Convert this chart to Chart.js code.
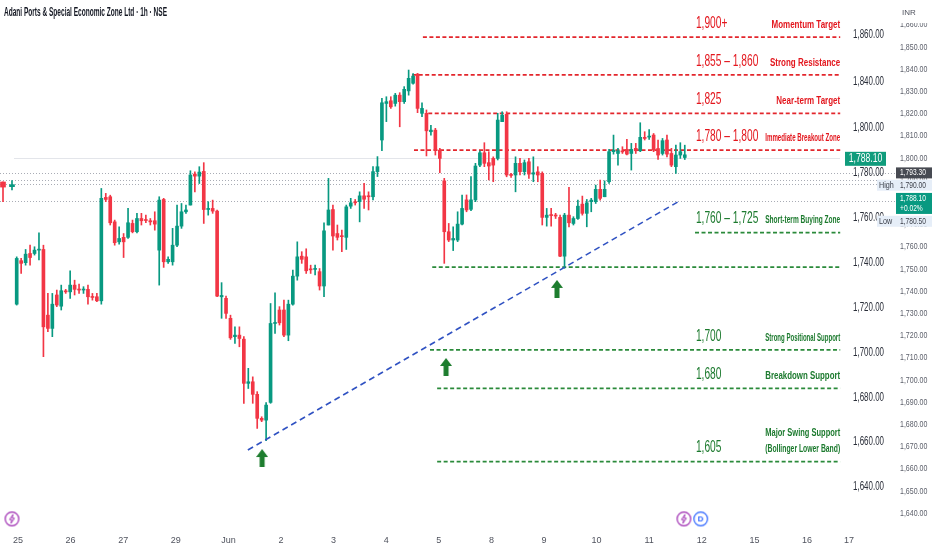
<!DOCTYPE html>
<html>
<head>
<meta charset="utf-8">
<script src="https://cdn.jsdelivr.net/npm/chart.js@4.4.1/dist/chart.umd.min.js"></script>
<style>
  html, body { margin: 0; padding: 0; background: #fff; }
  #wrap { position: relative; width: 932px; height: 550px; }
</style>
</head>
<body>
<div id="wrap"><canvas id="chart"></canvas></div>
<script>
// ==================== Dữ liệu ====================
// nến 1h (ảnh chèn bên trong)
const opens = [1721.5,1740.9,1740.0,1744.1,1744.1,1745.6,1745.9,1716.6,1710.7,1725.6,1720.6,1727.2,1727.0,1730.0,1728.1,1727.8,1728.1,1724.8,1724.8,1723.0,
  1769.1,1769.4,1758.2,1749.3,1751.3,1751.3,1757.5,1753.8,1759.7,1759.0,1758.7,1758.7,1745.6,1768.2,1740.4,1740.4,1747.8,1756.3,1762.7,1765.7,
  1779.5,1778.6,1780.7,1763.7,1764.2,1763.0,1724.8,1724.1,1715.2,1707.0,1707.7,1705.9,1686.2,1686.9,1681.3,1670.6,1669.8,1677.7,1712.9,1718.9,
  1718.9,1707.7,1721.5,1734.0,1742.9,1742.6,1737.0,1737.0,1736.0,1729.6,1756.8,1763.7,1753.0,1751.9,1751.3,1765.2,1767.2,1767.2,1769.8,1769.8,
  1769.4,1780.6,1794.7,1811.0,1812.2,1811.0,1814.7,1811.8,1816.6,1820.0,1824.1,1806.6,1806.6,1798.4,1799.1,1790.2,1776.5,1753.8,1750.1,1750.1,
  1757.2,1768.0,1763.8,1768.0,1783.5,1789.0,1784.6,1786.5,1786.5,1802.9,1806.2,1779.1,1779.1,1784.3,1780.6,1785.0,1779.5,1780.5,1779.8,1760.2,
  1761.2,1761.2,1760.2,1742.9,1761.2,1757.5,1759.7,1766.1,1762.0,1767.2,1767.2,1772.7,1769.4,1776.1,1789.5,1788.7,1789.5,1790.5,1788.7,1791.0,
  1789.9,1795.9,1796.0,1796.9,1790.9,1788.7,1794.7,1788.7,1782.8,1788.0,1786.9];
const highs = [1742.6,1741.9,1745.9,1747.8,1747.1,1753.3,1747.8,1726.3,1726.3,1727.8,1730.0,1728.1,1736.4,1732.2,1730.5,1729.3,1730.0,1726.3,1726.3,1773.1,
  1770.9,1770.1,1759.0,1756.0,1753.0,1764.2,1759.0,1762.0,1762.0,1761.2,1759.7,1762.7,1769.4,1768.7,1742.6,1755.3,1765.7,1766.4,1765.7,1781.0,
  1780.5,1782.8,1784.6,1767.2,1767.9,1763.5,1731.1,1725.1,1716.6,1711.4,1711.4,1707.0,1692.9,1689.1,1682.5,1671.3,1677.6,1721.8,1726.6,1720.4,
  1723.3,1723.3,1736.7,1749.3,1744.9,1746.2,1738.9,1738.9,1737.4,1757.8,1777.6,1765.7,1756.8,1754.5,1765.7,1768.7,1768.2,1771.6,1775.4,1771.6,
  1782.8,1787.3,1813.3,1814.0,1814.0,1815.5,1815.8,1818.5,1825.9,1824.3,1824.4,1811.3,1808.1,1801.3,1799.9,1791.0,1777.6,1757.5,1756.0,1762.7,
  1770.2,1770.2,1778.4,1784.3,1789.9,1793.5,1789.5,1787.2,1806.6,1807.3,1807.3,1779.8,1787.2,1786.5,1785.8,1786.5,1787.2,1782.8,1780.5,1764.2,
  1764.2,1762.0,1761.2,1762.0,1773.6,1760.5,1767.9,1769.7,1768.2,1768.7,1774.6,1776.8,1776.5,1790.5,1796.9,1791.0,1791.7,1795.0,1793.2,1793.2,
  1802.4,1798.4,1799.4,1797.6,1794.7,1795.4,1796.9,1791.0,1792.4,1793.5,1792.4];
const lows = [1721.1,1735.2,1738.9,1738.9,1743.4,1741.2,1698.1,1709.2,1707.0,1720.4,1718.9,1726.3,1724.1,1725.6,1726.3,1726.3,1721.5,1723.3,1722.6,1721.5,
  1767.2,1756.8,1747.8,1748.3,1742.3,1750.8,1753.3,1753.3,1756.8,1757.8,1756.8,1754.5,1730.0,1737.9,1739.7,1738.9,1747.1,1755.3,1762.0,1765.7,
  1771.6,1775.3,1757.5,1761.2,1762.0,1724.8,1715.2,1715.2,1705.8,1704.0,1702.5,1677.3,1683.9,1677.3,1666.1,1669.1,1660.6,1677.3,1708.5,1712.2,
  1707.0,1705.2,1721.1,1732.2,1739.7,1735.2,1735.2,1734.5,1727.8,1724.8,1756.8,1745.6,1750.1,1744.9,1745.9,1764.2,1765.7,1758.2,1764.2,1763.5,
  1768.0,1778.4,1789.9,1802.9,1808.8,1809.8,1800.6,1811.0,1814.7,1819.6,1806.9,1805.1,1787.6,1796.9,1788.0,1780.1,1739.7,1749.4,1745.4,1749.4,
  1756.8,1762.7,1763.2,1767.2,1782.8,1782.8,1776.9,1776.1,1785.8,1802.9,1778.3,1778.0,1771.6,1779.1,1779.1,1777.6,1776.1,1776.1,1756.8,1756.3,
  1756.3,1759.7,1742.7,1737.5,1756.0,1756.8,1759.3,1761.2,1756.0,1762.7,1766.4,1767.9,1769.4,1775.3,1788.4,1783.5,1788.7,1788.0,1781.3,1788.7,
  1789.5,1794.7,1795.0,1789.5,1786.0,1788.0,1787.2,1782.8,1779.8,1786.5,1786.0];
const closes = [1741.9,1739.7,1743.8,1742.3,1745.6,1745.9,1711.4,1710.7,1721.5,1721.1,1727.5,1727.0,1730.0,1728.1,1727.8,1727.9,1724.8,1724.5,1723.0,1768.7,
  1768.2,1757.8,1748.9,1750.8,1749.3,1757.8,1753.8,1759.7,1758.7,1758.8,1758.2,1757.2,1767.9,1740.4,1741.5,1747.8,1756.3,1762.7,1763.5,1779.1,
  1778.6,1780.4,1763.7,1764.2,1763.0,1725.1,1725.4,1717.4,1706.5,1707.7,1706.2,1686.2,1686.9,1681.3,1670.6,1669.8,1676.5,1712.9,1713.2,1713.2,
  1707.7,1721.5,1734.0,1742.6,1741.5,1736.4,1736.8,1737.3,1729.6,1754.2,1763.5,1751.9,1751.3,1751.6,1764.9,1766.7,1766.7,1769.8,1768.3,1769.4,
  1780.6,1782.8,1811.3,1811.8,1809.5,1814.7,1811.8,1817.3,1822.2,1823.2,1808.8,1808.8,1798.8,1799.1,1790.2,1786.5,1753.8,1750.1,1750.8,1757.2,
  1764.2,1763.5,1768.0,1783.1,1789.0,1784.3,1783.1,1783.5,1803.6,1805.8,1779.1,1778.9,1784.3,1780.6,1784.6,1779.5,1780.1,1779.1,1760.2,1761.2,
  1761.0,1760.8,1742.9,1761.2,1757.8,1759.7,1765.2,1762.0,1766.7,1767.9,1772.7,1768.7,1772.7,1789.5,1790.2,1789.9,1789.4,1788.4,1790.5,1789.9,
  1795.9,1795.4,1796.2,1790.2,1788.0,1794.4,1788.4,1783.5,1788.0,1789.5,1788.1];

// các mức kháng cự / hỗ trợ
const levelValues = [1840.6, 1823.7, 1806.6, 1790.2, 1753.4, 1738.0, 1701.1, 1684.0, 1651.3];
const levelStarts = [91.2, 88.8, 92.4, 89.2, 152.3, 93.3, 92.8, 94.4, 94.4];
const levelEnd = 184.9;
const levelKinds = ['res', 'res', 'res', 'res', 'sup', 'sup', 'sup', 'sup', 'sup'];
const levelTitles = ['1,900+', '1,855 – 1,860', '1,825', '1,780 – 1,800', '1,760 – 1,725', '', '1,700', '1,680', '1,605'];
const levelNotes = ['Momentum Target', 'Strong Resistance', 'Near-term Target', 'Immediate Breakout Zone',
  'Short-term Buying Zone', '', 'Strong Positional Support', 'Breakdown Support', 'Major Swing Support|(Bollinger Lower Band)'];

// đường xu hướng + mũi tên
const trendX = [51.9, 148.9];
const trendY = [1656.5, 1767.6];
const arrowX = [55.1, 96.4, 121.3];
const arrowY = [1652.9, 1693.5, 1728.3];

// trục giá của ảnh chèn
const innerTickValues = [1841.5, 1820.6, 1800, 1780, 1760, 1740, 1720, 1700, 1680, 1660, 1640];
const innerTickLabels = ['1,860.00', '1,840.00', '1,800.00', '1,780.00', '1,760.00', '1,740.00', '1,720.00', '1,700.00', '1,680.00', '1,660.00', '1,640.00'];
const innerLastPrice = 1788.1;

// trục ngoài (TradingView)
const priceTicks = [1640, 1650, 1660, 1670, 1680, 1690, 1700, 1710, 1720, 1730, 1740, 1750, 1760, 1770, 1780, 1790, 1800, 1810, 1820, 1830, 1840, 1850, 1860];
const dayLabels = ['25', '26', '27', '29', 'Jun', '2', '3', '4', '5', '8', '9', '10', '11', '12', '15', '16', '17'];
const dayTickValues = [0, 1, 2, 3, 4, 5, 6, 7, 8, 9, 10, 11, 12, 13, 14, 15, 15.8];
const outerX = [-0.285, -0.114];
const outerOpen = [1789.2, 1787.1];
const outerHigh = [1789.3, 1789.8];
const outerLow = [1780.3, 1785.6];
const outerClose = [1786.9, 1788.0];
const priceLines = [1793.3, 1790.0, 1788.1, 1780.5];
const gridLine = 1800;
const badgeX = [-0.114, 12.66, 12.98];
const badgeY = [1637.4, 1637.4, 1637.4];

// ==================== Style ====================
const UP = '#089981', DOWN = '#f23645';
const RED_LINE = '#e3262c', RED_TEXT = '#e3161d';
const GREEN_LINE = '#2a8a3a', GREEN_TEXT = '#1c7a2e';
const SANS = '"Liberation Sans", sans-serif';

function squeeze(ctx, text, x, y, sx, maxW) {
    ctx.save();
    ctx.translate(x, y);
    ctx.scale(sx, 1);
    if (maxW) ctx.fillText(text, 0, 0, maxW / sx);
    else ctx.fillText(text, 0, 0);
    ctx.restore();
}

function makeArrow() {
    const c = document.createElement('canvas');
    c.width = 12; c.height = 18;
    const g = c.getContext('2d');
    g.fillStyle = '#1d7d2e';
    g.beginPath();
    g.moveTo(6, 0); g.lineTo(12, 8); g.lineTo(8.5, 8); g.lineTo(8.5, 18);
    g.lineTo(3.5, 18); g.lineTo(3.5, 8); g.lineTo(0, 8);
    g.closePath(); g.fill();
    return c;
}

function makeBadge(color, kind) {
    const c = document.createElement('canvas');
    c.width = 17; c.height = 17;
    const g = c.getContext('2d');
    g.beginPath(); g.arc(8.5, 8.5, 6.8, 0, Math.PI * 2);
    g.fillStyle = '#fff'; g.fill();
    g.lineWidth = 1.2; g.strokeStyle = color; g.stroke();
    if (kind === 'bolt') {
        g.beginPath();
        g.moveTo(9.6, 4); g.lineTo(6, 9.2); g.lineTo(8.4, 9.2); g.lineTo(7.4, 13);
        g.lineTo(11, 7.8); g.lineTo(8.6, 7.8); g.closePath();
        g.lineWidth = 0.9; g.stroke();
    } else {
        g.fillStyle = color;
        g.font = 'bold 8px ' + SANS;
        g.textAlign = 'center'; g.textBaseline = 'middle';
        g.fillText('D', 8.5, 9);
    }
    return c;
}

const idx = opens.map((_, i) => i);
const candleColors = idx.map(i => closes[i] >= opens[i] ? UP : DOWN);
const outerColors = outerOpen.map((o, i) => outerClose[i] >= o ? UP : DOWN);

const levelDatasets = levelValues.map((v, i) => ({
    type: 'line',
    xAxisID: 'xi', yAxisID: 'yi',
    data: [{ x: levelStarts[i], y: v }, { x: levelEnd, y: v }],
    borderColor: levelKinds[i] === 'res' ? RED_LINE : GREEN_LINE,
    borderWidth: 1.8,
    borderDash: [4, 2.5],
    pointRadius: 0,
    order: 3
}));

const noPad = s => { s.paddingTop = 0; s.paddingBottom = 0; s.paddingLeft = 0; s.paddingRight = 0; };

// ==================== Plugin vẽ chữ / nhãn ====================
const overlayPlugin = {
    id: 'overlay',
    beforeDatasetsDraw(chart) {
        const { ctx, chartArea: a, scales: { y } } = chart;
        ctx.save();
        ctx.strokeStyle = '#e3e5ea';
        ctx.lineWidth = 1;
        let py = Math.round(y.getPixelForValue(gridLine)) + 0.5;
        ctx.beginPath(); ctx.moveTo(a.left + 14, py); ctx.lineTo(a.right - 55, py); ctx.stroke();
        ctx.strokeStyle = '#a9acb5';
        ctx.setLineDash([1, 2]);
        priceLines.forEach(v => {
            py = Math.round(y.getPixelForValue(v)) + 0.5;
            ctx.beginPath(); ctx.moveTo(a.left, py); ctx.lineTo(a.right, py); ctx.stroke();
        });
        ctx.restore();
    },
    afterDraw(chart) {
        const { ctx, chartArea: a, scales: { xi, yi, y } } = chart;
        ctx.save();
        ctx.textBaseline = 'middle';

        // tiêu đề
        ctx.fillStyle = '#131722';
        ctx.font = 'bold 12px ' + SANS;
        ctx.textAlign = 'left';
        squeeze(ctx, 'Adani Ports & Special Economic Zone Ltd · 1h · NSE', 4, 13, 1, 163);

        // nhãn các mức
        const titleX = xi.getPixelForValue(152.5);
        const noteX = xi.getPixelForValue(levelEnd);
        levelValues.forEach((v, i) => {
            const ly = yi.getPixelForValue(v);
            ctx.fillStyle = levelKinds[i] === 'res' ? RED_TEXT : GREEN_TEXT;
            if (levelTitles[i]) {
                ctx.font = '17px ' + SANS;
                ctx.textAlign = 'left';
                squeeze(ctx, levelTitles[i], titleX, ly - 14, 0.6);
            }
            if (levelNotes[i]) {
                ctx.font = 'bold 10px ' + SANS;
                ctx.textAlign = 'right';
                const rows = levelNotes[i].split('|');
                rows.forEach((r, k) => {
                    squeeze(ctx, r, noteX, ly - 12 - (rows.length - 1 - k) * 16, 0.8, 75);
                });
            }
        });

        // trục giá của ảnh chèn
        ctx.fillStyle = '#2a2e39';
        ctx.font = '12px ' + SANS;
        ctx.textAlign = 'right';
        innerTickValues.forEach((v, i) => {
            squeeze(ctx, innerTickLabels[i], a.right - 11, yi.getPixelForValue(v), 0.72, 31);
        });
        let by = yi.getPixelForValue(innerLastPrice) + 4;
        ctx.fillStyle = '#109c7c';
        ctx.fillRect(a.right - 50, by - 7, 41, 14);
        ctx.fillStyle = '#fff';
        ctx.textAlign = 'center';
        squeeze(ctx, '1,788.10', a.right - 29.5, by, 0.72, 34);

        // trục giá ngoài
        const ax = a.right + 1;
        ctx.fillStyle = '#5d606b';
        ctx.font = '9.5px ' + SANS;
        ctx.textAlign = 'left';
        priceTicks.forEach(v => {
            const lbl = v.toLocaleString('en-US', { minimumFractionDigits: 2, maximumFractionDigits: 2 });
            squeeze(ctx, lbl, ax + 4, y.getPixelForValue(v), 0.74);
        });
        ctx.fillStyle = '#fff';
        ctx.fillRect(a.right, 0, 40, 23);
        ctx.fillStyle = '#50535e';
        ctx.font = '8px ' + SANS;
        ctx.fillText('INR', ax + 6, 13);

        ctx.font = '9px ' + SANS;
        const box = (val, txt, bg, fg, dy, tag) => {
            const cy = y.getPixelForValue(val) + dy;
            ctx.fillStyle = bg;
            if (tag) ctx.fillRect(ax - 19, cy - 5.5, 55, 11);
            else ctx.fillRect(ax, cy - 5.5, 36, 11);
            ctx.fillStyle = fg;
            if (tag) squeeze(ctx, tag, ax - 17, cy, 0.8, 15);
            squeeze(ctx, txt, ax + 4, cy, 0.74, 29);
        };
        box(1793.3, '1,793.30', '#474a52', '#fff', 0);
        box(1790, '1,790.00', '#e6eef8', '#3a3e48', 5, 'High');
        box(1780.5, '1,780.50', '#e6eef8', '#3a3e48', 20, 'Low');
        // giá hiện tại
        by = y.getPixelForValue(1788.1) + 19;
        ctx.fillStyle = UP;
        ctx.fillRect(ax, by - 10.5, 36, 21);
        ctx.fillStyle = '#fff';
        squeeze(ctx, '1,788.10', ax + 4, by - 4.5, 0.74, 29);
        squeeze(ctx, '+0.02%', ax + 4, by + 5, 0.74, 29);
        ctx.restore();
    }
};

// ==================== Biểu đồ ====================
new Chart(document.getElementById('chart'), {
    type: 'bar',
    data: {
        datasets: [
            {
                xAxisID: 'xi', yAxisID: 'yi',
                data: idx.map(i => ({ x: i, y: [lows[i], highs[i]] })),
                backgroundColor: candleColors,
                barThickness: 1, grouped: false, order: 2
            },
            {
                xAxisID: 'xi', yAxisID: 'yi',
                data: idx.map(i => ({ x: i, y: [opens[i], closes[i]] })),
                backgroundColor: candleColors,
                barThickness: 3, minBarLength: 1, grouped: false, order: 1
            },
            {
                xAxisID: 'xo', yAxisID: 'y',
                data: outerX.map((x, i) => ({ x: x, y: [outerLow[i], outerHigh[i]] })),
                backgroundColor: outerColors,
                barThickness: 1, grouped: false, order: 2
            },
            {
                xAxisID: 'xo', yAxisID: 'y',
                data: outerX.map((x, i) => ({ x: x, y: [outerOpen[i], outerClose[i]] })),
                backgroundColor: outerColors,
                barThickness: 5, minBarLength: 1, grouped: false, order: 1
            },
            ...levelDatasets,
            {
                type: 'line',
                xAxisID: 'xi', yAxisID: 'yi',
                data: trendX.map((x, i) => ({ x: x, y: trendY[i] })),
                borderColor: '#3052c2', borderWidth: 1.6, borderDash: [6, 4],
                pointRadius: 0, order: 0
            },
            {
                type: 'scatter',
                xAxisID: 'xi', yAxisID: 'yi',
                data: arrowX.map((x, i) => ({ x: x, y: arrowY[i] })),
                pointStyle: makeArrow(), pointRadius: 9, order: 0
            },
            {
                type: 'scatter',
                xAxisID: 'xo', yAxisID: 'y',
                data: badgeX.map((x, i) => ({ x: x, y: badgeY[i] })),
                pointStyle: [makeBadge('#9c27b0', 'bolt'), makeBadge('#9c27b0', 'bolt'), makeBadge('#2962ff', 'D')],
                pointRadius: 8, order: 0
            }
        ]
    },
    options: {
        responsive: true,
        maintainAspectRatio: false,
        animation: false,
        events: [],
        layout: { padding: 0, autoPadding: false },
        plugins: { legend: { display: false }, tooltip: { enabled: false } },
        scales: {
            xi: { type: 'linear', position: 'bottom', display: false, min: -3.75, max: 197.2, offset: false },
            yi: { type: 'linear', position: 'right', display: false, min: 1621.7, max: 1857.13 },
            xo: {
                type: 'linear', position: 'bottom', min: -0.342, max: 16.673, offset: false,
                grid: { display: false, drawTicks: false }, border: { display: false },
                ticks: {
                    autoSkip: false, maxRotation: 0, padding: 7, color: '#50535e',
                    font: { family: SANS, size: 9 },
                    callback: (v, i) => dayLabels[i]
                },
                afterBuildTicks: s => { s.ticks = dayTickValues.map(v => ({ value: v })); },
                afterFit: s => { s.height = 22; noPad(s); }
            },
            y: {
                type: 'linear', position: 'right', min: 1633.3, max: 1871.2,
                grid: { display: false, drawTicks: false }, border: { display: false },
                ticks: { display: false },
                afterBuildTicks: s => { s.ticks = priceTicks.map(v => ({ value: v })); },
                afterFit: s => { s.width = 37; noPad(s); }
            }
        }
    },
    plugins: [overlayPlugin]
});
</script>
</body>
</html>
